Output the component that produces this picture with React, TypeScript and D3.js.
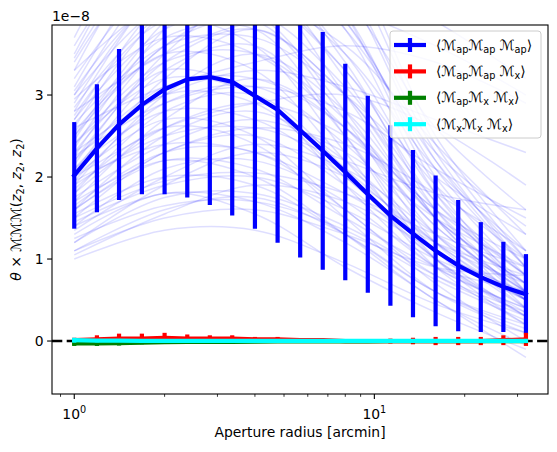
import React from 'react';
import * as d3 from 'd3';

// values are in units of 1e-8 (the axis offset text)
const THETA = [1, 1.19, 1.41, 1.68, 2, 2.38, 2.83, 3.36, 4, 4.76, 5.66, 6.73, 8, 9.51, 11.31, 13.45, 16, 19.03, 22.63, 26.91, 32];

const MAPAPAP = [2.02, 2.35, 2.64, 2.88, 3.07, 3.19, 3.22, 3.16, 2.99, 2.82, 2.57, 2.32, 2.06, 1.79, 1.53, 1.31, 1.1, 0.92, 0.78, 0.66, 0.57];
const MAPAPAP_ERR = [0.65, 0.78, 0.92, 1.09, 1.28, 1.44, 1.56, 1.63, 1.62, 1.62, 1.55, 1.45, 1.32, 1.2, 1.1, 1.02, 0.92, 0.8, 0.67, 0.55, 0.49];

const MAPAPX = [0.01, 0.02, 0.03, 0.03, 0.04, 0.03, 0.03, 0.03, 0.02, 0.02, 0.01, 0.01, 0.0, 0.0, 0.0, 0.0, 0.0, 0.0, 0.0, 0.01, 0.02];
const MAPAPX_ERR = [0.03, 0.05, 0.06, 0.06, 0.06, 0.05, 0.04, 0.04, 0.03, 0.03, 0.02, 0.02, 0.02, 0.02, 0.03, 0.04, 0.05, 0.05, 0.05, 0.06, 0.08];

const MAPXX = [-0.03, -0.03, -0.025, -0.02, -0.015, -0.012, -0.01, -0.01, -0.008, -0.006, -0.005, -0.005, -0.004, -0.004, -0.003, -0.003, -0.003, -0.002, -0.002, -0.002, -0.002];
const MAPXX_ERR = [0.03, 0.03, 0.03, 0.02, 0.02, 0.015, 0.015, 0.01, 0.01, 0.01, 0.01, 0.01, 0.01, 0.01, 0.01, 0.01, 0.01, 0.01, 0.01, 0.01, 0.01];

const MXXX = [0.01, 0.005, 0.004, 0.003, 0.002, 0.002, 0.002, 0.001, 0.001, 0.001, 0.001, 0.001, 0.001, 0.001, 0.001, 0.001, 0.001, 0.001, 0.001, 0.001, 0.001];
const MXXX_ERR = [0.03, 0.02, 0.015, 0.015, 0.01, 0.01, 0.01, 0.01, 0.01, 0.01, 0.01, 0.01, 0.01, 0.01, 0.01, 0.01, 0.01, 0.01, 0.01, 0.01, 0.01];

// individual realisations, sampled at a few apertures
const REAL_THETA = [1, 2, 4, 8, 16, 32];
const REALISATIONS = [
  [1.0, 1.35, 1.35, 0.95, 0.45, 0.1],
  [1.1, 1.6, 1.75, 1.3, 0.6, 0.15],
  [1.2, 1.75, 1.8, 1.4, 0.8, 0.35],
  [1.3, 1.8, 1.55, 0.9, 0.35, -0.1],
  [1.4, 2.1, 2.2, 1.7, 0.9, 0.4],
  [1.45, 1.9, 2.0, 1.6, 1.0, 0.6],
  [1.5, 2.3, 2.5, 1.9, 1.0, 0.3],
  [1.55, 2.0, 1.9, 1.3, 0.6, 0.2],
  [1.6, 2.5, 2.8, 2.2, 1.2, 0.5],
  [1.65, 2.3, 2.3, 1.6, 0.7, 0.0],
  [1.7, 2.7, 3.2, 2.6, 1.4, 0.6],
  [1.75, 2.4, 2.7, 2.3, 1.5, 0.9],
  [1.8, 2.8, 3.0, 2.1, 0.9, 0.2],
  [1.85, 2.6, 2.4, 1.5, 0.6, 0.1],
  [1.9, 3.0, 3.5, 2.8, 1.5, 0.7],
  [1.95, 2.9, 3.1, 2.4, 1.3, 0.5],
  [2.0, 3.2, 3.8, 3.0, 1.6, 0.6],
  [2.0, 2.7, 2.5, 1.6, 0.8, 0.3],
  [2.05, 3.3, 3.6, 2.5, 1.1, 0.3],
  [2.1, 3.0, 2.9, 2.0, 1.1, 0.6],
  [2.15, 3.5, 4.2, 3.3, 1.7, 0.7],
  [2.2, 3.1, 3.2, 2.6, 1.6, 1.0],
  [2.25, 3.6, 3.9, 2.7, 1.2, 0.4],
  [2.3, 3.3, 3.0, 1.9, 0.9, 0.4],
  [2.35, 3.8, 4.5, 3.5, 1.8, 0.8],
  [2.4, 3.4, 3.5, 2.7, 1.5, 0.7],
  [2.45, 3.7, 3.8, 2.5, 1.0, 0.2],
  [2.5, 3.9, 4.8, 3.9, 2.1, 0.9],
  [2.55, 3.5, 3.3, 2.2, 1.1, 0.5],
  [2.6, 4.0, 4.4, 3.2, 1.5, 0.5],
  [2.65, 3.6, 3.7, 3.0, 2.0, 1.3],
  [2.7, 4.2, 5.0, 3.8, 1.8, 0.6],
  [2.75, 3.9, 3.6, 2.3, 1.0, 0.3],
  [2.8, 4.4, 5.2, 4.0, 2.0, 0.8],
  [2.85, 4.0, 4.2, 3.3, 1.9, 1.0],
  [2.9, 4.3, 4.6, 3.4, 1.6, 0.5],
  [3.0, 4.6, 5.5, 4.3, 2.2, 0.9],
  [3.05, 4.2, 4.0, 2.8, 1.3, 0.5],
  [3.1, 4.8, 5.8, 4.6, 2.4, 1.0],
  [3.2, 4.5, 4.8, 3.8, 2.3, 1.4],
  [3.3, 5.0, 5.6, 4.0, 1.9, 0.6],
  [3.4, 4.7, 4.4, 3.0, 1.5, 0.7],
  [3.5, 5.3, 6.2, 4.8, 2.5, 1.1],
  [3.6, 5.0, 5.2, 4.2, 2.6, 1.6],
  [1.6, 2.2, 2.1, 1.5, 0.9, 0.6],
  [1.9, 2.5, 2.6, 2.2, 1.8, 1.6],
  [2.3, 3.0, 3.3, 3.1, 2.7, 2.3],
  [1.4, 1.8, 1.7, 1.2, 0.5, -0.2],
  [1.2, 1.9, 2.3, 2.0, 1.2, 0.4],
  [2.0, 2.6, 2.9, 3.0, 2.6, 1.9],
  [2.6, 3.1, 3.4, 3.6, 3.4, 2.9],
  [1.1, 1.5, 1.6, 1.3, 0.9, 0.8],
  [1.05, 1.55, 1.9, 1.7, 1.1, 0.5],
  [1.25, 1.65, 1.7, 1.35, 0.75, 0.25],
  [1.35, 2.0, 2.4, 2.1, 1.3, 0.6],
  [1.5, 1.95, 2.05, 1.8, 1.3, 0.9],
  [1.7, 2.2, 2.0, 1.3, 0.5, -0.05],
  [1.8, 2.6, 2.9, 2.5, 1.6, 0.8],
  [2.1, 2.8, 2.7, 2.0, 1.0, 0.35],
  [2.2, 3.4, 3.8, 3.0, 1.5, 0.4],
  [2.4, 3.2, 3.0, 2.1, 1.2, 0.7],
  [2.5, 3.6, 4.1, 3.6, 2.4, 1.3],
  [2.7, 3.8, 4.0, 3.1, 1.7, 0.8],
  [2.8, 3.5, 3.9, 4.0, 3.6, 3.0],
  [3.0, 4.1, 4.3, 3.5, 2.1, 1.1],
  [3.3, 4.2, 4.6, 4.5, 3.9, 3.2],
  [3.45, 4.9, 5.1, 3.9, 2.2, 1.0],
  [3.7, 5.4, 5.9, 4.4, 2.3, 0.9],
  [2.95, 3.7, 3.5, 2.6, 1.4, 0.6],
  [1.95, 2.4, 2.3, 1.8, 1.2, 0.8],
  [2.25, 2.9, 3.1, 2.8, 2.1, 1.5],
  [1.6, 2.3, 2.6, 2.4, 1.8, 1.1],
];

const Y_TICKS = [0, 1, 2, 3];
const X_MAJOR = [1, 10];
const X_MAJOR_EXP = ['0', '1'];
const X_MINOR = [0.9, 2, 3, 4, 5, 6, 7, 8, 9, 20, 30];

type Part = { t: string; sub?: string };
const LEGEND_LABELS: Part[][] = [
  [{ t: '⟨' }, { t: 'ℳ', sub: 'ap' }, { t: 'ℳ', sub: 'ap' }, { t: ' ℳ', sub: 'ap' }, { t: '⟩' }],
  [{ t: '⟨' }, { t: 'ℳ', sub: 'ap' }, { t: 'ℳ', sub: 'ap' }, { t: ' ℳ', sub: 'x' }, { t: '⟩' }],
  [{ t: '⟨' }, { t: 'ℳ', sub: 'ap' }, { t: 'ℳ', sub: 'x' }, { t: ' ℳ', sub: 'x' }, { t: '⟩' }],
  [{ t: '⟨' }, { t: 'ℳ', sub: 'x' }, { t: 'ℳ', sub: 'x' }, { t: ' ℳ', sub: 'x' }, { t: '⟩' }],
];

const SERIES = [
  { color: '#0000ff', mean: MAPAPAP, err: MAPAPAP_ERR },
  { color: '#ff0000', mean: MAPAPX, err: MAPAPX_ERR },
  { color: '#008000', mean: MAPXX, err: MAPXX_ERR },
  { color: '#00ffff', mean: MXXX, err: MXXX_ERR },
];

const W = 557;
const H = 452;
const left = 52, right = 548, top = 25, bottom = 394;
const FONT = 'DejaVu Sans';
const FS = 13.9;

const mathText = (parts: Part[], subSize: number, shift: number) => {
  const out: React.ReactNode[] = [];
  let down = false;
  parts.forEach((p, i) => {
    out.push(<tspan key={'m' + i} dy={down ? -shift : 0}>{p.t}</tspan>);
    down = false;
    if (p.sub) {
      out.push(<tspan key={'s' + i} dy={shift} fontSize={subSize}>{p.sub}</tspan>);
      down = true;
    }
  });
  return out;
};

export default function App() {
  const x = d3.scaleLog().domain([0.843, 37.9]).range([left, right]);
  const y = d3.scaleLinear().domain([-0.646, 3.854]).range([bottom, top]);

  const meanLine = d3.line<number>().x((_, i) => x(THETA[i])).y(d => y(d));
  const realLine = d3.line<number>()
    .x((_, i) => x(REAL_THETA[i]))
    .y(d => y(d))
    .curve(d3.curveCatmullRom.alpha(0.5));

  const legX = 390, legY = 31, legW = 151, legH = 107;

  return (
    <svg width={W} height={H} style={{ position: 'absolute', left: 0, top: 0, background: '#fff' }}
      fontFamily={FONT}>
      <defs>
        <clipPath id="plot">
          <rect x={left} y={top} width={right - left} height={bottom - top} />
        </clipPath>
      </defs>
      <rect width={W} height={H} fill="#fff" />

      <g clipPath="url(#plot)">
        {REALISATIONS.map((r, i) => (
          <path key={i} d={realLine(r) || ''} fill="none" stroke="#0000ff" strokeOpacity={0.13} strokeWidth={1.5} />
        ))}
        <line x1={left} x2={right} y1={y(0)} y2={y(0)} stroke="#000" strokeWidth={2.6} strokeDasharray="10.3,4.4" />
        {SERIES.map((s, si) => (
          <g key={si}>
            {s.mean.map((m, i) => (
              <line key={i} x1={x(THETA[i])} x2={x(THETA[i])} y1={y(m - s.err[i])} y2={y(m + s.err[i])}
                stroke={s.color} strokeWidth={4.2} />
            ))}
            <path d={meanLine(s.mean) || ''} fill="none" stroke={s.color} strokeWidth={4.2} strokeLinejoin="round" strokeLinecap="square" />
          </g>
        ))}
      </g>

      {/* axes frame */}
      <rect x={left} y={top} width={right - left} height={bottom - top} fill="none" stroke="#000" strokeWidth={1.1} />

      {/* y axis */}
      {Y_TICKS.map(t => (
        <g key={t}>
          <line x1={left - 4.9} x2={left} y1={y(t)} y2={y(t)} stroke="#000" strokeWidth={1.1} />
          <text x={left - 8.4} y={y(t) + 5} textAnchor="end" fontSize={FS}>{t}</text>
        </g>
      ))}
      <text x={left} y={21} fontSize={FS}>1e−8</text>

      {/* x axis */}
      {X_MAJOR.map((t, i) => (
        <g key={t}>
          <line x1={x(t)} x2={x(t)} y1={bottom} y2={bottom + 4.9} stroke="#000" strokeWidth={1.1} />
          <text x={x(t)} y={419} textAnchor="middle" fontSize={FS}>
            10<tspan dy={-6} fontSize={9.7}>{X_MAJOR_EXP[i]}</tspan>
          </text>
        </g>
      ))}
      {X_MINOR.map(t => (
        <line key={t} x1={x(t)} x2={x(t)} y1={bottom} y2={bottom + 2.8} stroke="#000" strokeWidth={0.8} />
      ))}
      <text x={(left + right) / 2} y={437} textAnchor="middle" fontSize={FS}>Aperture radius [arcmin]</text>

      {/* y label */}
      <text transform={`translate(21, ${(top + bottom) / 2}) rotate(-90)`} textAnchor="middle" fontSize={FS}>
        <tspan fontStyle="italic">θ</tspan>
        <tspan>{'  ×  ℳℳℳ('}</tspan>
        <tspan fontStyle="italic">z</tspan><tspan dy={3} fontSize={9.7}>2</tspan>
        <tspan dy={-3}>{', '}</tspan>
        <tspan fontStyle="italic">z</tspan><tspan dy={3} fontSize={9.7}>2</tspan>
        <tspan dy={-3}>{', '}</tspan>
        <tspan fontStyle="italic">z</tspan><tspan dy={3} fontSize={9.7}>2</tspan>
        <tspan dy={-3}>)</tspan>
      </text>

      {/* legend */}
      <rect x={legX} y={legY} width={legW} height={legH} rx={3} fill="#fff" fillOpacity={0.8} stroke="#cccccc" strokeWidth={1} />
      {SERIES.map((s, i) => {
        const cy = 45 + i * 26.4;
        return (
          <g key={i}>
            <line x1={394} x2={426} y1={cy} y2={cy} stroke={s.color} strokeWidth={4.2} />
            <line x1={410} x2={410} y1={cy - 7} y2={cy + 7} stroke={s.color} strokeWidth={4.2} />
            <text x={436} y={cy + 4.5} fontSize={FS}>{mathText(LEGEND_LABELS[i], 9.7, 3)}</text>
          </g>
        );
      })}
    </svg>
  );
}
